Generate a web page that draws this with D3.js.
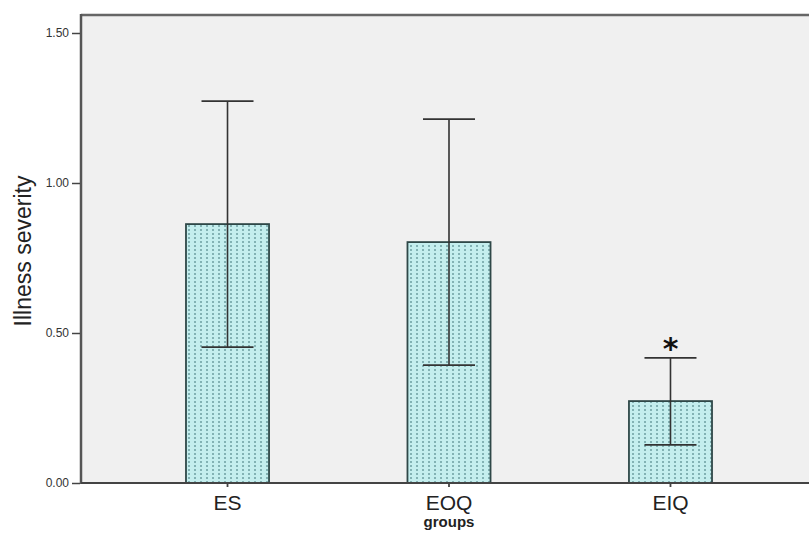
<!DOCTYPE html>
<html><head><meta charset="utf-8">
<script src="https://cdn.jsdelivr.net/npm/d3@7"></script>
<style>body{margin:0;background:#fff}svg{display:block}</style>
</head><body>
<svg id="c" width="809" height="533"></svg>
<script>
const categories = ["ES", "EOQ", "EIQ"];
const means = [0.863, 0.803, 0.273];
const errHigh = [1.273, 1.213, 0.417];
const errLow = [0.453, 0.393, 0.127];
const yTicks = [0, 0.5, 1.0, 1.5];
const significant = [false, false, true];

const svg = d3.select("#c");
const L = 81, R = 817, T = 15, B = 483;
const y = d3.scaleLinear().domain([0, 1.56]).range([B, T]);
const x = d3.scaleBand().domain(categories).range([L, R]).paddingInner(0.625).paddingOuter(0.474);

const defs = svg.append("defs");
const pat = defs.append("pattern").attr("id", "dots").attr("patternUnits", "userSpaceOnUse")
  .attr("width", 6).attr("height", 4);
pat.append("rect").attr("width", 6).attr("height", 4).attr("fill", "#c4eeee");
pat.append("rect").attr("x", 2).attr("y", 1).attr("width", 2).attr("height", 2).attr("fill", "#82b2b4");

svg.append("rect").attr("x", L).attr("y", T).attr("width", 809 - L).attr("height", B - T).attr("fill", "#f0f0f0");

// bars
svg.selectAll(".bar").data(categories).join("rect")
  .attr("x", d => x(d)).attr("y", (d, i) => y(means[i]))
  .attr("width", x.bandwidth()).attr("height", (d, i) => y(0) - y(means[i]))
  .attr("fill", "url(#dots)").attr("stroke", "#2f4848").attr("stroke-width", 1.8);

// error bars
const cap = 26;
categories.forEach((c, i) => {
  const cx = x(c) + x.bandwidth() / 2;
  const g = svg.append("g").attr("stroke", "#333").attr("stroke-width", 1.6);
  g.append("line").attr("x1", cx).attr("x2", cx).attr("y1", y(errHigh[i])).attr("y2", y(errLow[i]));
  g.append("line").attr("x1", cx - cap).attr("x2", cx + cap).attr("y1", y(errHigh[i])).attr("y2", y(errHigh[i]));
  g.append("line").attr("x1", cx - cap).attr("x2", cx + cap).attr("y1", y(errLow[i])).attr("y2", y(errLow[i]));
  if (significant[i]) {
    svg.append("text").attr("x", cx).attr("y", y(errHigh[i]) + 1).attr("text-anchor", "middle")
      .attr("font-family", "DejaVu Sans, sans-serif").attr("font-size", 30).attr("font-weight", "bold")
      .attr("fill", "#111").text("*");
  }
});

// frame
svg.append("line").attr("x1", L).attr("x2", 809).attr("y1", T).attr("y2", T).attr("stroke", "#666").attr("stroke-width", 2.5);
svg.append("line").attr("x1", L).attr("x2", L).attr("y1", T - 1).attr("y2", B + 1).attr("stroke", "#555").attr("stroke-width", 2.5);
svg.append("line").attr("x1", L).attr("x2", 809).attr("y1", B).attr("y2", B).attr("stroke", "#444").attr("stroke-width", 2);

// y axis
const ya = svg.append("g").attr("transform", `translate(${L - 1},0)`)
  .call(d3.axisLeft(y).tickValues(yTicks).tickFormat(d3.format(".2f")).tickSize(8).tickPadding(3));
ya.select(".domain").remove();
ya.selectAll("line").attr("stroke", "#444").attr("stroke-width", 1.5);
ya.selectAll("text").attr("font-family", "Liberation Sans, Arial, sans-serif").attr("font-size", 12).attr("fill", "#333");

// x axis
const xa = svg.append("g").attr("transform", `translate(0,${B})`)
  .call(d3.axisBottom(x).tickSize(4).tickPadding(8));
xa.select(".domain").remove();
xa.selectAll("line").attr("stroke", "#444").attr("stroke-width", 1.8);
xa.selectAll("text").attr("font-family", "Liberation Sans, Arial, sans-serif").attr("font-size", 21).attr("fill", "#222");

// titles
svg.append("text").attr("transform", "translate(31,251) rotate(-90)").attr("text-anchor", "middle")
  .attr("font-family", "Liberation Sans, Arial, sans-serif").attr("font-size", 23).attr("fill", "#222").text("Illness severity");
svg.append("text").attr("x", 449).attr("y", 527).attr("text-anchor", "middle")
  .attr("font-family", "Liberation Sans, Arial, sans-serif").attr("font-size", 15).attr("font-weight", "bold").attr("fill", "#222").text("groups");
</script>
</body></html>
